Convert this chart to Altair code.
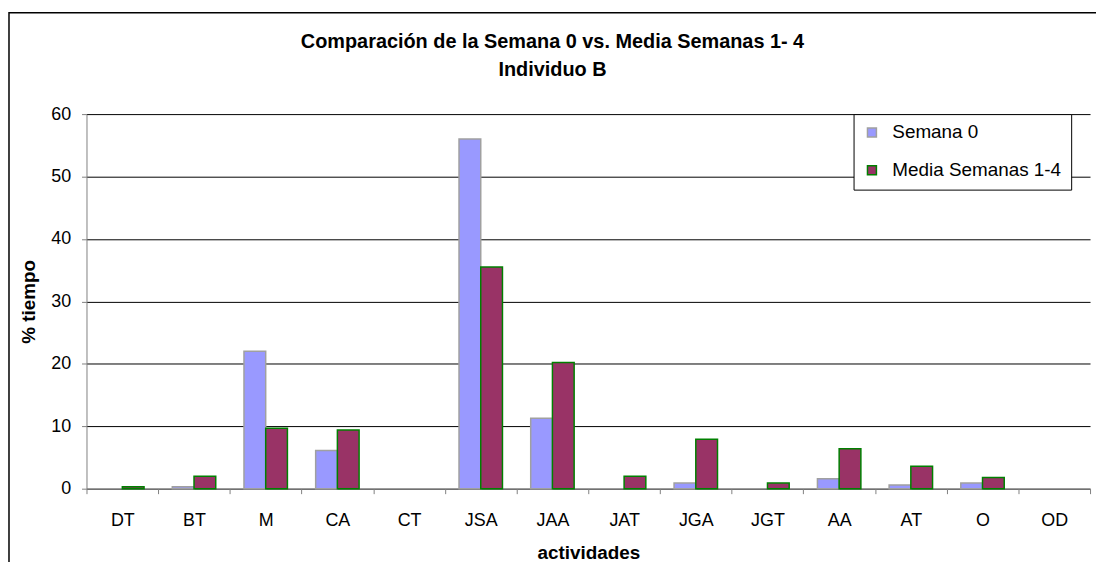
import altair as alt
import pandas as pd

actividades = ["DT", "BT", "M", "CA", "CT", "JSA", "JAA", "JAT", "JGA", "JGT", "AA", "AT", "O", "OD"]
semana0 = [0, 0.3, 22.0, 6.1, 0, 56.0, 11.3, 0, 0.9, 0, 1.6, 0.6, 0.9, 0]
media14 = [0.3, 2.0, 9.7, 9.4, 0, 35.5, 20.2, 2.0, 7.9, 0.9, 6.4, 3.6, 1.8, 0]
series = ["Semana 0", "Media Semanas 1-4"]
fills = ["#9999FF", "#993366"]
strokes = ["#A0A0A0", "#008000"]

rows = []
for a, v0, v1 in zip(actividades, semana0, media14):
    rows.append({"act": a, "serie": series[0], "val": v0})
    rows.append({"act": a, "serie": series[1], "val": v1})
df = pd.DataFrame(rows)

FONT = "Liberation Sans"

bars = alt.Chart(df).transform_filter("datum.val > 0").mark_bar(strokeWidth=1.5).encode(
    x=alt.X("act:N", sort=actividades, title="actividades",
            scale=alt.Scale(domain=actividades, paddingInner=0, paddingOuter=0),
            axis=alt.Axis(tickBand="extent", labelAngle=0, grid=False,
                          domainColor="#808080", tickColor="#808080", tickSize=5,
                          labelPadding=18, labelFontSize=18, labelFont=FONT, labelColor="#000",
                          titleFontSize=19, titleFont=FONT, titleFontWeight="bold",
                          titlePadding=14, titleColor="#000")),
    xOffset=alt.XOffset("serie:N", scale=alt.Scale(domain=series, paddingOuter=0.65, paddingInner=0)),
    y=alt.Y("val:Q", title="% tiempo",
            scale=alt.Scale(domain=[0, 60], nice=False),
            axis=alt.Axis(values=[0, 10, 20, 30, 40, 50, 60], grid=True, gridColor="#000",
                          gridWidth=1, domainColor="#808080", tickColor="#808080", tickSize=5,
                          labelPadding=11, labelFontSize=18, labelFont=FONT, labelColor="#000",
                          titleFontSize=19, titleFont=FONT, titleFontWeight="bold",
                          titlePadding=12, titleColor="#000")),
    fill=alt.Fill("serie:N", scale=alt.Scale(domain=series, range=fills),
                  legend=alt.Legend(title=None)),
    stroke=alt.Stroke("serie:N", scale=alt.Scale(domain=series, range=strokes),
                      legend=alt.Legend(title=None)),
)

frame = alt.Chart(pd.DataFrame({"k": [0]})).mark_rect(
    fill=None, stroke="#000", strokeWidth=1.5
).encode(x=alt.value(-78), x2=alt.value(1040), y=alt.value(-102), y2=alt.value(500))

chart = alt.layer(bars, frame).properties(
    width=1010, height=377,
    title=alt.TitleParams(
        text=["Comparación de la Semana 0 vs. Media Semanas 1- 4", "Individuo B"],
        font=FONT, fontSize=20, fontWeight="bold", color="#000",
        lineHeight=28, anchor="middle", dx=-36, dy=92, offset=24),
    autosize=alt.AutoSizeParams(type="none"),
    padding={"left": 79, "top": 105, "right": 6, "bottom": 72},
).configure_view(stroke=None).configure_legend(
    orient="none", legendX=772, legendY=0,
    strokeColor="#000", fillColor="#fff", padding=9, cornerRadius=0,
    symbolType="square", symbolSize=81, symbolStrokeWidth=1.5,
    labelFont=FONT, labelFontSize=19, labelColor="#000", labelOffset=11,
    labelLimit=400, rowPadding=18,
)

chart.save("out.html", embed_options={"renderer": "svg", "actions": False})
